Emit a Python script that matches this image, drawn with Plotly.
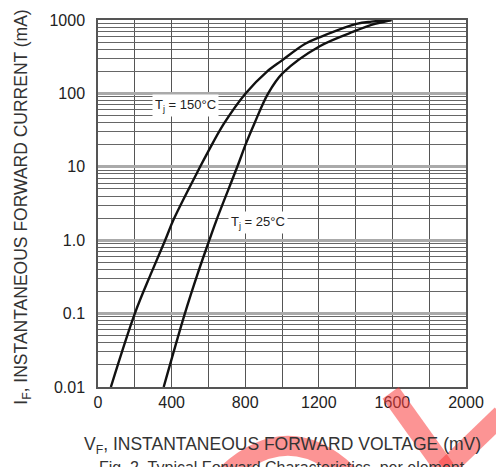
import math
import plotly.graph_objects as go

# ---- data ----
v_150 = [70, 200, 292, 365, 412, 555, 595, 685, 802, 917, 1000, 1126, 1211, 1405, 1486, 1595]
i_150 = [0.01, 0.1, 0.37, 1.0, 1.94, 10, 15.5, 39, 100, 197, 282, 475, 591, 884, 950, 1000]

v_25 = [357, 472, 545, 605, 646, 757, 805, 850, 925, 1005, 1205, 1405, 1486, 1595]
i_25 = [0.01, 0.1, 0.37, 1.0, 1.94, 10, 21, 39, 100, 190, 440, 720, 860, 1000]

x_ticks = [0, 400, 800, 1200, 1600, 2000]
y_ticks = [0.01, 0.1, 1, 10, 100, 1000]
y_tick_text = ["0.01", "0.1", "1.0", "10", "100", "1000"]

label_150 = ("T<sub>j</sub> = 150°C", 474, 69.5)
label_25 = ("T<sub>j</sub> = 25°C", 871, 1.75)

FONT = "Liberation Sans, Arial, sans-serif"

fig = go.Figure()
for v, i in [(v_150, i_150), (v_25, i_25)]:
    fig.add_trace(go.Scatter(x=v, y=i, mode="lines",
                             line=dict(color="#111", width=2.4, shape="spline", smoothing=1.0),
                             showlegend=False, hoverinfo="skip"))

for txt, xv, yv in [label_150, label_25]:
    fig.add_annotation(x=xv, y=math.log10(yv), text=txt, showarrow=False,
                       font=dict(family=FONT, size=13, color="#222"),
                       bgcolor="white", borderpad=2)

fig.update_xaxes(range=[0, 2000], tickvals=x_ticks, ticks="",
                 showgrid=True, gridcolor="#555", gridwidth=1,
                 minor=dict(dtick=200, showgrid=True, gridcolor="#555", gridwidth=1),
                 showline=True, linecolor="#555", linewidth=1.5, mirror=True,
                 tickfont=dict(family=FONT, size=16, color="#222"), zeroline=False)
fig.update_yaxes(type="log", range=[-2, 3], tickvals=y_ticks, ticktext=y_tick_text, ticks="",
                 showgrid=True, gridcolor="#aaa", gridwidth=3,
                 minor=dict(dtick="D1", showgrid=True, gridcolor="#666", gridwidth=1),
                 showline=True, linecolor="#555", linewidth=1.5, mirror=True,
                 ticklabelstandoff=8,
                 tickfont=dict(family=FONT, size=16, color="#222"))

fig.add_annotation(xref="paper", yref="paper", x=0.5, y=-0.16, yanchor="middle",
                   text="V<sub>F</sub>, INSTANTANEOUS FORWARD VOLTAGE (mV)", showarrow=False,
                   font=dict(family=FONT, size=17.5, color="#333"))
fig.add_annotation(xref="paper", yref="paper", x=-0.205, y=0.49, xanchor="center",
                   yanchor="middle", textangle=-90,
                   text="I<sub>F</sub>, INSTANTANEOUS FORWARD CURRENT (mA)", showarrow=False,
                   font=dict(family=FONT, size=17.5, color="#333"))
fig.add_annotation(xref="paper", yref="paper", x=0.5, y=-0.19, yanchor="top",
                   text="Fig. 2  Typical Forward Characteristics, per element", showarrow=False,
                   font=dict(family=FONT, size=16, color="#333"))

# red watermark strokes (paper coordinates)
def px(xp, yp):
    return ((xp - 98) / 371, (387 - yp) / 371)

red = "rgba(250,60,60,0.55)"
x0, y0 = px(393, 393); x1, y1 = px(448, 470)
fig.add_shape(type="line", xref="paper", yref="paper", x0=x0, y0=y0, x1=x1, y1=y1,
              line=dict(color=red, width=20))
x0, y0 = px(448, 470); x1, y1 = px(505, 415)
fig.add_shape(type="line", xref="paper", yref="paper", x0=x0, y0=y0, x1=x1, y1=y1,
              line=dict(color=red, width=20))
a = px(228, 475); b = px(290, 418); c = px(350, 475)
fig.add_shape(type="path", xref="paper", yref="paper",
              path=f"M {a[0]},{a[1]} Q {b[0]},{b[1]} {c[0]},{c[1]}",
              line=dict(color=red, width=20))

fig.update_layout(width=496, height=467, margin=dict(l=98, r=27, t=16, b=80),
                  plot_bgcolor="white", paper_bgcolor="white")
fig.write_html("out.html", config={"displayModeBar": False},
               post_script="document.body.style.margin='0';document.body.style.overflow='hidden';")
